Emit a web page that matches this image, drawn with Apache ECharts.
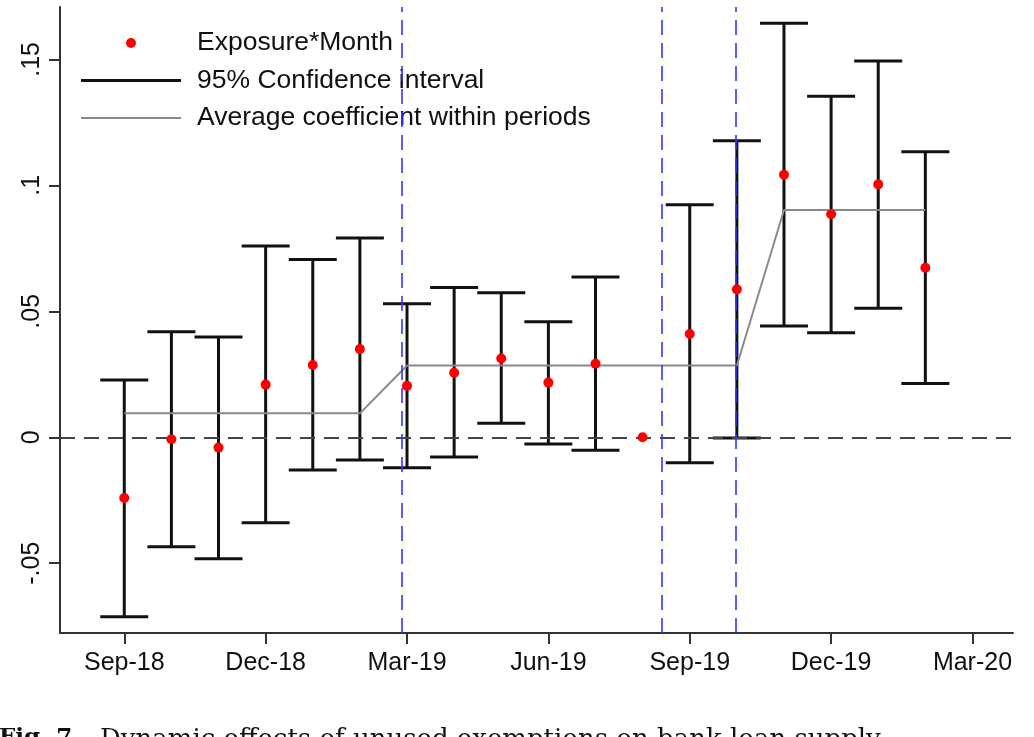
<!DOCTYPE html>
<html>
<head>
<meta charset="utf-8">
<script src="https://cdn.jsdelivr.net/npm/echarts@6/dist/echarts.min.js"></script>
<style>
html,body{margin:0;padding:0;background:#fff;}
#chart{width:1034px;height:737px;}
</style>
</head>
<body>
<div id="chart"></div>
<script>
// Month index 0 = Sep-18 ... 17 = Feb-20
const months = ['Sep-18','Oct-18','Nov-18','Dec-18','Jan-19','Feb-19','Mar-19','Apr-19','May-19','Jun-19','Jul-19','Aug-19','Sep-19','Oct-19','Nov-19','Dec-19','Jan-20','Feb-20'];
const coef   = [-0.0241,-0.0008,-0.0041,0.0209,0.0287,0.0350,0.0204,0.0256,0.0313,0.0217,0.0292,0.0000,0.0410,0.0587,0.1042,0.0885,0.1004,0.0673];
const ciLow  = [-0.0712,-0.0435,-0.0482,-0.0339,-0.0130,-0.0090,-0.0121,-0.0078,0.0056,-0.0027,-0.0052,null,-0.0101,-0.0003,0.0442,0.0415,0.0512,0.0213];
const ciHigh = [0.0227,0.0419,0.0398,0.0759,0.0706,0.0791,0.0530,0.0595,0.0574,0.0459,0.0636,null,0.0923,0.1177,0.1643,0.1354,0.1494,0.1133];
const avgX = [0,5,6,13,14,17];
const avgY = [0.0095,0.0095,0.0285,0.0285,0.0902,0.0902];
const eventLines = [5.89,11.40,12.97];
const xTickValues = [0,3,6,9,12,15,18];
const xTickLabels = ['Sep-18','Dec-18','Mar-19','Jun-19','Sep-19','Dec-19','Mar-20'];
const yTickValues = [-0.05,0,0.05,0.1,0.15];
const yTickLabels = ['-.05','0','.05','.1','.15'];
const captionBold = 'Fig. 7.';
const captionText = 'Dynamic effects of unused exemptions on bank loan supply.';

const FONT = 'Liberation Sans, Arial, sans-serif';
const chart = echarts.init(document.getElementById('chart'), null, {renderer:'canvas'});

const pointData = months.map((m,i)=>[i, coef[i]]);
const ciData = [];
months.forEach((m,i)=>{ if (ciLow[i] !== null) ciData.push([i, ciLow[i], ciHigh[i]]); });
const avgData = avgX.map((x,i)=>[x, avgY[i]]);

function lookup(vals, labels, v){
  for (let i=0;i<vals.length;i++){ if (Math.abs(vals[i]-v) < 1e-6) return labels[i]; }
  return '';
}

const option = {
  animation:false,
  backgroundColor:'#fff',
  grid:{left:60, right:21, top:7, bottom:104, containLabel:false},
  legend:{
    orient:'vertical', left:76, top:24, itemWidth:100, itemHeight:10, itemGap:9.5,
    selectedMode:false,
    textStyle:{fontFamily:FONT, fontSize:26.5, color:'#111', lineHeight:28, padding:[0,0,0,11]},
    data:[
      {name:'Exposure*Month', icon:'circle'},
      {name:'95% Confidence interval', icon:'path://M0,0L100,0L100,3L0,3Z'},
      {name:'Average coefficient within periods', icon:'path://M0,0L100,0L100,2L0,2Z'}
    ]
  },
  xAxis:{
    type:'value', min:-1.364, max:18.86,
    axisLine:{show:true, onZero:false, lineStyle:{color:'#333', width:2}},
    axisTick:{show:true, length:11, customValues:xTickValues, lineStyle:{color:'#333', width:2}},
    axisLabel:{customValues:xTickValues, margin:18, fontFamily:FONT, fontSize:25, color:'#111',
      formatter:(v)=>lookup(xTickValues, xTickLabels, v)},
    splitLine:{show:false}
  },
  yAxis:{
    type:'value', min:-0.0777, max:0.1708,
    axisLine:{show:true, onZero:false, lineStyle:{color:'#333', width:2}},
    axisTick:{show:true, length:11, customValues:yTickValues, lineStyle:{color:'#333', width:2}},
    axisLabel:{customValues:yTickValues, rotate:90, margin:15, fontFamily:FONT, fontSize:25, color:'#111',
      formatter:(v)=>lookup(yTickValues, yTickLabels, v)},
    splitLine:{show:false}
  },
  series:[
    {
      name:'95% Confidence interval', type:'custom', z:2,
      itemStyle:{color:'#111'},
      data:ciData,
      encode:{x:0, y:[1,2]},
      renderItem:function(params, api){
        const x = api.value(0), lo = api.value(1), hi = api.value(2);
        const t = api.coord([x, hi]);
        const b = api.coord([x, lo]);
        const hw = 24;
        const st = {stroke:'#111', lineWidth:3};
        return {type:'group', children:[
          {type:'line', shape:{x1:t[0], y1:t[1], x2:b[0], y2:b[1]}, style:st},
          {type:'line', shape:{x1:t[0]-hw, y1:t[1], x2:t[0]+hw, y2:t[1]}, style:st},
          {type:'line', shape:{x1:b[0]-hw, y1:b[1], x2:b[0]+hw, y2:b[1]}, style:st}
        ]};
      }
    },
    {
      name:'Average coefficient within periods', type:'line', z:3,
      data:avgData, symbol:'none',
      lineStyle:{color:'#8a8a8a', width:2}, itemStyle:{color:'#8a8a8a'},
      markLine:{
        silent:true, symbol:'none', label:{show:false}, animation:false,
        data:[
          {yAxis:0, lineStyle:{color:'#444', width:2, type:[15,9]}}
        ].concat(eventLines.map(v=>({xAxis:v, lineStyle:{color:'#3535ff', width:1.6, type:[15,8]}})))
      }
    },
    {
      name:'Exposure*Month', type:'scatter', z:5,
      data:pointData, symbol:'circle', symbolSize:10,
      itemStyle:{color:'#ff0000', opacity:1}
    }
  ],
  graphic:[
    {type:'text', left:-1, top:727, silent:true,
      style:{text:captionBold, font:'bold 23px "DejaVu Serif", serif', fill:'#111'}},
    {type:'text', left:100, top:727, silent:true,
      style:{text:captionText, font:'26px "DejaVu Serif", serif', fill:'#111'}}
  ]
};
chart.setOption(option);
</script>
</body>
</html>
